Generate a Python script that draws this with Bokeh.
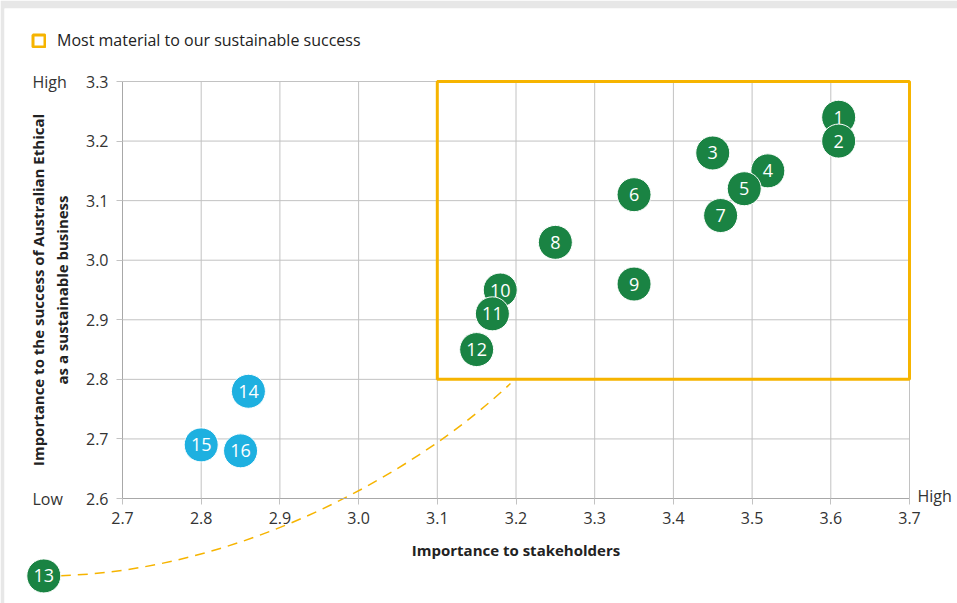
from bokeh.plotting import figure
from bokeh.models import (Range1d, LinearAxis, FixedTicker, PrintfTickFormatter,
                          Legend, LegendItem, Label)
from bokeh.core.properties import value
from bokeh.embed import file_html
from bokeh.resources import INLINE

# ---- data -------------------------------------------------------------
ids = ["1", "2", "3", "4", "5", "6", "7", "8", "9", "10", "11", "12", "13", "14", "15", "16"]
stakeholders = [3.61, 3.61, 3.45, 3.52, 3.49, 3.35, 3.46, 3.25, 3.35, 3.18, 3.17, 3.15, 2.60, 2.86, 2.80, 2.85]
business = [3.24, 3.20, 3.18, 3.15, 3.12, 3.11, 3.075, 3.03, 2.96, 2.95, 2.91, 2.85, 2.47, 2.78, 2.69, 2.68]
group = ["key"] * 13 + ["other"] * 3

x_ticks = [2.7, 2.8, 2.9, 3.0, 3.1, 3.2, 3.3, 3.4, 3.5, 3.6, 3.7]
y_ticks = [2.6, 2.7, 2.8, 2.9, 3.0, 3.1, 3.2, 3.3]

# "most material" zone
zone_x = (3.1, 3.7)
zone_y = (2.8, 3.3)

# ---- styling ----------------------------------------------------------
GREEN = "#1a8343"
BLUE = "#1eb0e0"
YELLOW = "#f6b400"
GRID = "#c2c2c2"
FONT = "Open Sans"
colors = [GREEN if g == "key" else BLUE for g in group]

W, H = 957, 603
BORDER_L, BORDER_T = 4, 8
# pixel placement of the axis extents inside the page
AX_L, AX_R = 122, 909
AX_T, AX_B = 81, 498

px_x = (AX_R - AX_L) / (x_ticks[-1] - x_ticks[0])
px_y = (AX_B - AX_T) / (y_ticks[-1] - y_ticks[0])
x_range = Range1d(x_ticks[0] - (AX_L - BORDER_L) / px_x, x_ticks[-1] + (W - AX_R) / px_x)
y_range = Range1d(y_ticks[0] - (H - AX_B) / px_y, y_ticks[-1] + (AX_T - BORDER_T) / px_y)

p = figure(width=W, height=H, x_range=x_range, y_range=y_range,
           output_backend="svg", toolbar_location=None,
           x_axis_location=None, y_axis_location=None,
           min_border_left=BORDER_L, min_border_top=BORDER_T,
           min_border_right=0, min_border_bottom=0)
p.grid.visible = False
p.outline_line_color = None
p.border_fill_color = "#e7e7e7"
p.background_fill_color = "white"

# grid lines bounded by the axes
p.segment(x0=x_ticks[1:], y0=y_ticks[0], x1=x_ticks[1:], y1=y_ticks[-1],
          line_color=GRID, line_width=1)
p.segment(x0=x_ticks[0], y0=y_ticks[1:], x1=x_ticks[-1], y1=y_ticks[1:],
          line_color=GRID, line_width=1)

# axes
xaxis = LinearAxis(fixed_location=y_ticks[0], bounds=(x_ticks[0], x_ticks[-1]),
                   ticker=FixedTicker(ticks=x_ticks),
                   formatter=PrintfTickFormatter(format="%.1f"),
                   axis_label="Importance to stakeholders")
yaxis = LinearAxis(fixed_location=x_ticks[0], bounds=(y_ticks[0], y_ticks[-1]),
                   ticker=FixedTicker(ticks=y_ticks),
                   formatter=PrintfTickFormatter(format="%.1f"),
                   axis_label="Importance to the success of Australian Ethical\nas a sustainable business")
for ax in (xaxis, yaxis):
    ax.axis_line_color = "#a8a8a8"
    ax.major_tick_line_color = GRID
    ax.major_tick_out = 6
    ax.major_tick_in = 0
    ax.minor_tick_line_color = None
    ax.major_label_text_font = FONT
    ax.major_label_text_font_size = "16px"
    ax.major_label_text_color = "#333333"
    ax.axis_label_text_font = FONT
    ax.axis_label_text_font_size = "15px"
    ax.axis_label_text_font_style = "bold"
    ax.axis_label_text_color = "#222222"
xaxis.major_label_standoff = 7
xaxis.axis_label_standoff = 13
yaxis.major_label_standoff = 8
yaxis.axis_label_standoff = 11
p.add_layout(xaxis, "below")
p.add_layout(yaxis, "left")

# High / Low markers at the ends of the axes
for text, x, y, xo, yo in [("High", x_ticks[0], y_ticks[-1], -90, 0),
                           ("Low", x_ticks[0], y_ticks[0], -90, 0),
                           ("High", x_ticks[-1], y_ticks[0], 8, 3)]:
    p.add_layout(Label(x=x, y=y, x_offset=xo, y_offset=yo, text=text,
                       text_font=FONT, text_font_size="16px", text_color="#333333",
                       text_baseline="middle", text_align="left"))

# most-material zone
zone = p.quad(left=zone_x[0], right=zone_x[1], bottom=zone_y[0], top=zone_y[1],
              fill_color=None, line_color=YELLOW, line_width=3)

# dashed connector from the off-chart topic 13 up to the zone
p.bezier(x0=stakeholders[12], y0=business[12], x1=3.193, y1=2.793,
         cx0=2.84, cy0=business[12], cx1=3.07, cy1=2.64,
         line_color=YELLOW, line_width=1.5, line_dash="10 7")

# topic bubbles
p.scatter(x=stakeholders, y=business, size=34, marker="circle",
          fill_color=colors, line_color="white", line_width=1)
p.text(x=stakeholders, y=business, text=ids, text_color="white",
       text_font=value(FONT), text_font_size="18px",
       text_align="center", text_baseline="middle")

legend = Legend(items=[LegendItem(label="Most material to our sustainable success",
                                  renderers=[zone])],
                location=(27, 552), orientation="horizontal",
                padding=0, margin=0, spacing=0,
                glyph_width=15, glyph_height=15, label_height=15,
                label_standoff=11,
                label_text_font=FONT, label_text_font_size="16px",
                label_text_color="#222222",
                border_line_color=None, background_fill_alpha=0)
p.add_layout(legend)

open("out.html", "w").write(file_html(p, INLINE))
